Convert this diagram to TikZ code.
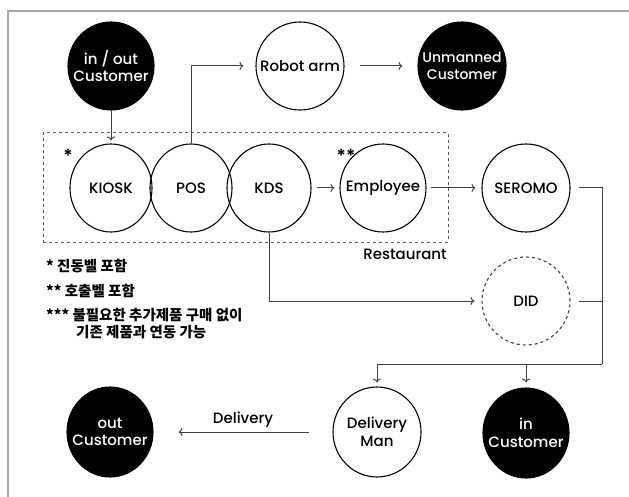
\documentclass[tikz,border=0pt]{standalone}
\usepackage{fontspec}
\setmainfont{Poppins}[UprightFont=* Medium, BoldFont=* SemiBold]
\newfontfamily\kr{Noto Sans CJK KR}
\usetikzlibrary{shapes.geometric,arrows.meta}
\begin{document}
\begin{tikzpicture}[x=1pt,y=-1pt,
  ent/.style={ellipse, draw=black, line width=1.1pt, minimum width=86pt, minimum height=88pt, inner sep=0pt},
  blk/.style={ent, fill=black},
  wht/.style={ent, fill=white},
  txt/.style={inner sep=0pt, align=center, font=\fontsize{15}{17.5}\selectfont},
  wtxt/.style={txt, text=white},
  conn/.style={draw=black!75, line width=1pt, -{To[length=4pt,width=8pt]}},
  plain/.style={draw=black!75, line width=1pt},
  note/.style={anchor=west, inner sep=0pt, font=\kr\bfseries\fontsize{14.5}{16}\selectfont},
  star/.style={inner sep=0pt, font=\bfseries\fontsize{18}{18}\selectfont}
]
\useasboundingbox (0,0) rectangle (629,497);
% frame
\draw[gray!70, line width=2pt] (7.5,497) -- (7.5,11.5) -- (629,11.5);
% restaurant box
\node[draw=black!65, dashed, line width=1pt, minimum width=405pt, minimum height=109pt, inner sep=0pt] (rest) at (245.5,187.5) {};
\node[anchor=south east, inner sep=0pt, font=\fontsize{15}{17}\selectfont] (restlbl) at (447,260) {Restaurant};
% nodes row 1
\node[blk] (inout) at (111,66) {};
\node[wtxt] (inout-t) at (inout) {in / out\\Customer};
\node[wht, minimum width=88pt] (robot) at (300,66) {};
\node[txt] (robot-t) at (robot) {Robot arm};
\node[blk, minimum width=88pt] (unman) at (462,66) {};
\node[wtxt, font=\fontsize{14}{17}\selectfont] (unman-t) at (unman) {Unmanned\\Customer};
% row 2
\node[wht, minimum width=82pt] (kiosk) at (111,188) {};
\node[ent, minimum width=82pt] (pos) at (191,188) {};
\node[ent, minimum width=84pt] (kds) at (269,188) {};
\node[txt] (kiosk-t) at (kiosk) {KIOSK};
\node[txt] (pos-t) at (pos) {POS};
\node[txt] (kds-t) at (kds) {KDS};
\node[wht, minimum width=86pt] (emp) at (383,188) {};
\node[txt] (emp-t) at (emp) {Employee};
\node[wht, minimum width=88pt] (sero) at (526,188) {};
\node[txt] (sero-t) at (sero) {SEROMO};
\node[star] (s1) at (68,156) {*};
\node[star] (s2) at (346,156) {**};
% DID
\node[wht, dashed, draw=black!75, minimum width=88pt] (did) at (526,301) {};
\node[txt] (did-t) at (did) {DID};
% row 3
\node[wht, minimum width=88pt, minimum height=90pt] (dman) at (377,432) {};
\node[txt] (dman-t) at (dman) {Delivery\\Man};
\node[blk, minimum width=86pt, minimum height=90pt] (incust) at (526,433) {};
\node[wtxt] (incust-t) at (incust) {in\\Customer};
\node[blk, minimum width=86pt, minimum height=90pt] (outcust) at (110,432) {};
\node[wtxt] (outcust-t) at (outcust) {out\\Customer};
% notes
\node[note] (n1) at (46,266) {* 진동벨 포함};
\node[note] (n2) at (46,291) {** 호출벨 포함};
\node[note] (n3) at (46,315) {*** 불필요한 추가제품 구매 없이};
\node[note] (n4) at (76,332) {기존 제품과 연동 가능};
% connectors
\draw[conn, shorten >=3pt] (inout.south) -- (kiosk.north);
\draw[conn, shorten >=12pt] (pos.north) |- (robot.west);
\draw[conn, shorten <=15pt, shorten >=15pt] (robot.east) -- (unman.west);
\draw[conn, shorten <=5pt, shorten >=5pt] (kds.east) -- (emp.west);
\draw[conn, shorten <=4pt, shorten >=6pt] (emp.east) -- (sero.west);
\draw[conn, shorten >=7pt] (kds.south) |- (did.west);
\coordinate (rc) at (602,364);
\coordinate (rt) at (602,188);
\draw[plain, shorten <=8pt] (sero.east) -- (rt) -- (rc);
\draw[plain, shorten <=8pt] (did.east) -- (did.east -| rc);
\draw[conn, shorten >=4pt] (rc) -| (dman.north);
\draw[conn, shorten >=5pt] (incust.north |- rc) -- (incust.north);
\draw[conn, shorten <=23pt, shorten >=25pt] (dman.west) -- node[above=4pt, inner sep=0pt, font=\fontsize{15}{17}\selectfont] (dlbl) {Delivery} (outcust.east);
\end{tikzpicture}
\end{document}
